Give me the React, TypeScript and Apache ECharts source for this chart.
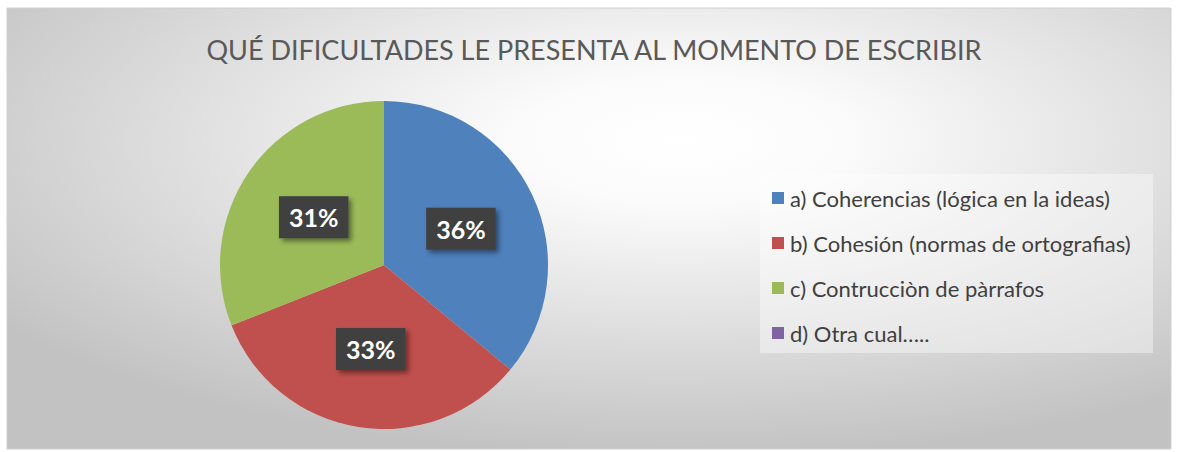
import React, { useEffect, useRef } from "react";
import * as echarts from "echarts";

const titleText = "QUÉ DIFICULTADES LE PRESENTA AL MOMENTO DE ESCRIBIR";
const categories = [
  "a) Coherencias (lógica en la ideas)",
  "b) Cohesión (normas de ortografias)",
  "c) Contrucciòn de pàrrafos",
  "d) Otra cual…..",
];
const values = [36, 33, 31, 0];
const colors = ["#4f81bd", "#c0504d", "#9bbb59", "#8064a2"];

export default function App() {
  const ref = useRef<HTMLDivElement>(null);
  useEffect(() => {
    if (!ref.current) return;
    const chart = echarts.init(ref.current, undefined, { renderer: "svg" });
    const font = "Lato, 'Open Sans', sans-serif";
    chart.setOption({
      animation: false,
      color: colors,
      graphic: [
        {
          type: "rect",
          shape: { x: 7, y: 8, width: 1164, height: 441 },
          style: {
            fill: new echarts.graphic.RadialGradient(0.58, 0.3, 0.72, [
              { offset: 0, color: "#ffffff" },
              { offset: 0.2, color: "#fbfbfb" },
              { offset: 1, color: "#c2c2c2" },
            ]),
            stroke: "#d0d0d0",
            lineWidth: 1,
          },
          z: -10,
        },
        {
          type: "rect",
          shape: { x: 760, y: 174, width: 393, height: 179 },
          style: { fill: "rgba(255,255,255,0.4)" },
          z: -5,
        },
      ],
      title: {
        text: titleText,
        left: 589,
        textAlign: "center",
        top: 31,
        textStyle: {
          fontFamily: font,
          fontSize: 27,
          fontWeight: "normal",
          color: "#595959",
        },
      },
      legend: {
        orient: "vertical",
        left: 767,
        top: 180,
        itemWidth: 12,
        itemHeight: 12,
        itemGap: 19,
        icon: "rect",
        data: categories,
        textStyle: {
          fontFamily: font,
          fontSize: 22,
          color: "#404040",
          lineHeight: 26,
          padding: [0, 0, 0, 1],
        },
      },
      series: [
        {
          type: "pie",
          center: [384, 265],
          radius: 164,
          startAngle: 90,
          clockwise: true,
          minAngle: 0,
          avoidLabelOverlap: false,
          labelLine: { show: false },
          itemStyle: { borderWidth: 0 },
          emphasis: { disabled: true },
          label: {
            show: true,
            position: "inside",
            formatter: "{d}%",
            precision: 0,
            color: "#ffffff",
            fontFamily: font,
            fontSize: 25,
            fontWeight: "bold",
            backgroundColor: "#404040",
            padding: [9, 10, 8, 10],
            shadowColor: "rgba(0,0,0,0.45)",
            shadowBlur: 5,
            shadowOffsetX: 3,
            shadowOffsetY: 3,
          },
          data: categories.map((name, i) => ({
            name,
            value: values[i],
            label: values[i] === 0 ? { show: false } : undefined,
          })),
        },
      ],
    });
    return () => chart.dispose();
  }, []);
  return (
    <div
      ref={ref}
      style={{ position: "fixed", left: 0, top: 0, width: 1179, height: 452, background: "#ffffff" }}
    />
  );
}
